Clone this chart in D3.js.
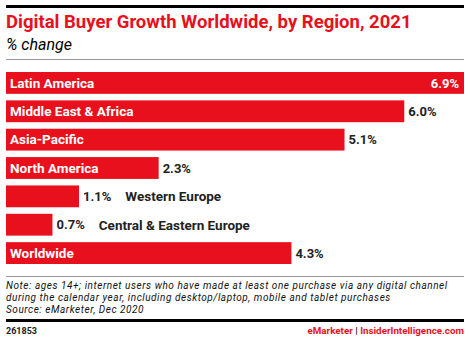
<!DOCTYPE html>
<html>
<head>
<meta charset="utf-8">
<script src="https://cdn.jsdelivr.net/npm/d3@7"></script>
<style>
  body { margin: 0; background: #fff; }
  svg { display: block; font-family: "Roboto", "Liberation Sans", sans-serif; }
</style>
</head>
<body>
<div id="chart"></div>
<script>
// data
var categories = ["Latin America", "Middle East & Africa", "Asia-Pacific", "North America",
  "Western Europe", "Central & Eastern Europe", "Worldwide"];
var values = [6.9, 6.0, 5.1, 2.3, 1.1, 0.7, 4.3];
var noteLines = [
  "Note: ages 14+; internet users who have made at least one purchase via any digital channel",
  "during the calendar year, including desktop/laptop, mobile and tablet purchases",
  "Source: eMarketer, Dec 2020"
];

var width = 470, height = 341;
var red = "#e8101c";
var margin = { left: 6, right: 6 };

var svg = d3.select("#chart")
  .append("svg")
  .attr("width", width)
  .attr("height", height);

// top rule
svg.append("rect")
  .attr("x", 6).attr("y", 5)
  .attr("width", width - 12).attr("height", 3)
  .attr("fill", "#000");

svg.append("text")
  .attr("x", 6).attr("y", 28)
  .attr("fill", red)
  .attr("font-size", 18.5)
  .attr("font-weight", "bold")
  .text("Digital Buyer Growth Worldwide, by Region, 2021");

svg.append("text")
  .attr("x", 6).attr("y", 50)
  .attr("fill", "#000")
  .attr("font-size", 16)
  .attr("font-style", "italic")
  .text("% change");

svg.append("rect")
  .attr("x", 6).attr("y", 59)
  .attr("width", width - 12).attr("height", 1)
  .attr("fill", "#999");

// scales
var x = d3.scaleLinear()
  .domain([0, d3.max(values)])
  .range([margin.left, width - margin.right]);

var y = d3.scaleBand()
  .domain(categories)
  .range([72, 264])
  .paddingInner(0.23)
  .paddingOuter(0);

var rows = svg.selectAll(".row")
  .data(categories)
  .enter().append("g")
  .attr("class", "row");

rows.append("rect")
  .attr("x", x(0))
  .attr("y", function(d) { return y(d); })
  .attr("width", function(d, i) { return x(values[i]) - x(0); })
  .attr("height", y.bandwidth())
  .attr("fill", red);

// value labels
var valLabels = rows.append("text")
  .attr("class", "val")
  .attr("x", function(d, i) {
    return i == 0 ? x(values[i]) - 5 : x(values[i]) + 4;
  })
  .attr("y", function(d) { return y(d) + y.bandwidth() / 2; })
  .attr("dy", ".36em")
  .attr("text-anchor", function(d, i) { return i == 0 ? "end" : "start"; })
  .attr("font-size", 13)
  .attr("font-weight", "bold")
  .attr("fill", function(d, i) { return i == 0 ? "#fff" : "#222"; })
  .text(function(d, i) { return values[i].toFixed(1) + "%"; });

// category labels: inside the bar if it fits, else after the value
rows.append("text")
  .attr("x", function(d, i) {
    if (values[i] < 2) {
      var w = valLabels.nodes()[i].getComputedTextLength();
      return x(values[i]) + 4 + w + 14;
    }
    return x(0) + 4;
  })
  .attr("y", function(d) { return y(d) + y.bandwidth() / 2; })
  .attr("dy", ".36em")
  .attr("font-size", 13.5)
  .attr("font-weight", "bold")
  .attr("fill", function(d, i) { return values[i] < 2 ? "#222" : "#fff"; })
  .text(function(d) { return d; });

// footer
svg.append("rect")
  .attr("x", 6).attr("y", 276)
  .attr("width", width - 12).attr("height", 1)
  .attr("fill", "#999");

svg.selectAll(".note")
  .data(noteLines)
  .enter().append("text")
  .attr("class", "note")
  .attr("x", 6)
  .attr("y", function(d, i) { return 289.3 + i * 11.7; })
  .attr("font-size", 10)
  .attr("letter-spacing", 0.55)
  .attr("font-style", "italic")
  .attr("fill", "#111")
  .text(function(d) { return d; });

svg.append("rect")
  .attr("x", 6).attr("y", 319)
  .attr("width", width - 12).attr("height", 3)
  .attr("fill", "#000");

svg.append("text")
  .attr("x", 6).attr("y", 334)
  .attr("font-size", 9)
  .attr("font-weight", "bold")
  .attr("fill", "#222")
  .text("261853");

var brand = svg.append("text")
  .attr("x", width - 6).attr("y", 334)
  .attr("text-anchor", "end")
  .attr("font-size", 9.8)
  .attr("font-weight", "bold");
brand.append("tspan").attr("fill", red).text("eMarketer");
brand.append("tspan").attr("fill", "#222").text("  |  ");
brand.append("tspan").attr("fill", red).text("InsiderIntelligence.com");
</script>
</body>
</html>
